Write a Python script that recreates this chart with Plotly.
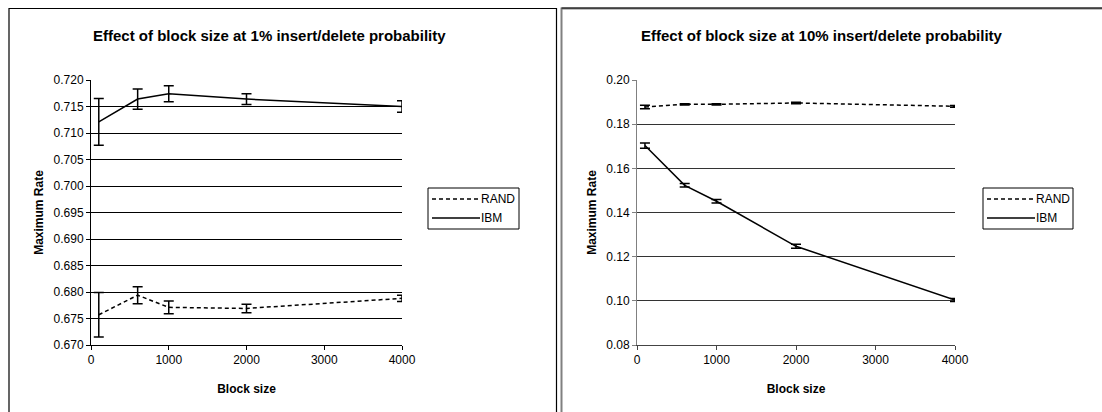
import plotly.graph_objects as go

W, H = 1102, 412

block_sizes = [100, 600, 1000, 2000, 4000]

# Left panel: 1% insert/delete probability
rand_1 = [0.6757, 0.6794, 0.6771, 0.6769, 0.6788]
rand_1_err = [0.0042, 0.0016, 0.0012, 0.0008, 0.0006]
ibm_1 = [0.7121, 0.7164, 0.7174, 0.7164, 0.7150]
ibm_1_err = [0.0044, 0.0019, 0.0015, 0.0010, 0.0011]

# Right panel: 10% insert/delete probability
rand_10 = [0.1878, 0.1890, 0.1890, 0.1896, 0.1881]
rand_10_err = [0.0008, 0.0003, 0.0003, 0.0003, 0.0004]
ibm_10 = [0.1703, 0.1523, 0.1451, 0.1247, 0.1004]
ibm_10_err = [0.0012, 0.0008, 0.0008, 0.0009, 0.0007]

series_names = ["RAND", "IBM"]
titles = ["Effect of block size at 1% insert/delete probability",
          "Effect of block size at 10% insert/delete probability"]

FONT = "Liberation Sans, Arial, sans-serif"
RAND_DASH = "4px,3px"

def px(x):
    return x / W

def py(y):
    return 1 - y / H

fig = go.Figure()

def add_series(x, y, err, name, dash, xa, ya):
    fig.add_trace(go.Scatter(
        x=x, y=y, name=name, mode="lines", showlegend=False,
        line=dict(color="black", width=1.5, dash=dash),
        error_y=dict(type="data", array=err, visible=True, color="black",
                     thickness=1.5, width=5),
        xaxis=xa, yaxis=ya,
    ))

add_series(block_sizes, rand_1, rand_1_err, series_names[0], RAND_DASH, "x", "y")
add_series(block_sizes, ibm_1, ibm_1_err, series_names[1], "solid", "x", "y")
add_series(block_sizes, rand_10, rand_10_err, series_names[0], RAND_DASH, "x2", "y2")
add_series(block_sizes, ibm_10, ibm_10_err, series_names[1], "solid", "x2", "y2")

axis_common = dict(
    showline=True, linewidth=1, ticks="outside", ticklen=4, tickwidth=1,
    tickfont=dict(family=FONT, size=12, color="black"),
    zeroline=False, automargin=False,
)

ytop, ybot = 80, 345

fig.update_layout(
    template="none",
    width=W, height=H,
    margin=dict(l=0, r=0, t=0, b=0, pad=0, autoexpand=False),
    paper_bgcolor="white", plot_bgcolor="white",
    font=dict(family=FONT, color="black"),
    showlegend=False,
    xaxis=dict(domain=[px(91), px(402)], range=[0, 4000], dtick=1000,
               anchor="y", linecolor="black", tickcolor="black",
               showgrid=False,
               title=dict(text="<b>Block size</b>", font=dict(size=12), standoff=18),
               **axis_common),
    yaxis=dict(domain=[py(ybot), py(ytop)], range=[0.670, 0.720], dtick=0.005,
               tickformat=".3f", anchor="x", linecolor="black", tickcolor="black",
               showgrid=True, gridcolor="black", gridwidth=1,
               title=dict(text="<b>Maximum Rate</b>", font=dict(size=12), standoff=7),
               **axis_common),
    xaxis2=dict(domain=[px(637), px(955)], range=[0, 4000], dtick=1000,
                anchor="y2", linecolor="#444", tickcolor="#444",
                showgrid=False,
                title=dict(text="<b>Block size</b>", font=dict(size=12), standoff=18),
                **axis_common),
    yaxis2=dict(domain=[py(ybot), py(ytop)], range=[0.08, 0.20], dtick=0.02,
                tickformat=".2f", anchor="x2", linecolor="#808080", tickcolor="#808080",
                showgrid=True, gridcolor="#333", gridwidth=1,
                title=dict(text="<b>Maximum Rate</b>", font=dict(size=12), standoff=7),
                **axis_common),
)

for t, cx in zip(titles, [269, 822]):
    fig.add_annotation(text="<b>" + t + "</b>", x=px(cx), y=py(36),
                       xref="paper", yref="paper", showarrow=False,
                       xanchor="center", yanchor="middle",
                       font=dict(family=FONT, size=15, color="black"))

# manual legends (box, line samples, labels)
for bx0, bx1 in [(428, 519), (983, 1073)]:
    fig.add_shape(type="rect", xref="paper", yref="paper",
                  x0=px(bx0), x1=px(bx1), y0=py(229), y1=py(188),
                  line=dict(color="black", width=1), fillcolor="white")
    for name, dash, yy in zip(series_names, [RAND_DASH, "solid"], [199, 218]):
        fig.add_shape(type="line", xref="paper", yref="paper",
                      x0=px(bx0 + 4), x1=px(bx0 + 52), y0=py(yy), y1=py(yy),
                      line=dict(color="black", width=1.5, dash=dash))
        fig.add_annotation(text=name, x=px(bx0 + 51), y=py(yy),
                           xref="paper", yref="paper", showarrow=False,
                           xanchor="left", yanchor="middle",
                           font=dict(family=FONT, size=12, color="black"))

# panel borders
fig.add_shape(type="rect", xref="paper", yref="paper",
              x0=px(9), x1=px(556.5), y0=-0.05, y1=py(8.5),
              line=dict(color="black", width=1.2))
fig.add_shape(type="rect", xref="paper", yref="paper",
              x0=px(561.5), x1=1.05, y0=-0.05, y1=py(8.5),
              line=dict(color="#808080", width=2))
fig.add_shape(type="line", xref="paper", yref="paper",
              x0=px(561.5), x1=1.0, y0=py(8), y1=py(8),
              line=dict(color="black", width=1.2))

fig.write_html("out.html")
